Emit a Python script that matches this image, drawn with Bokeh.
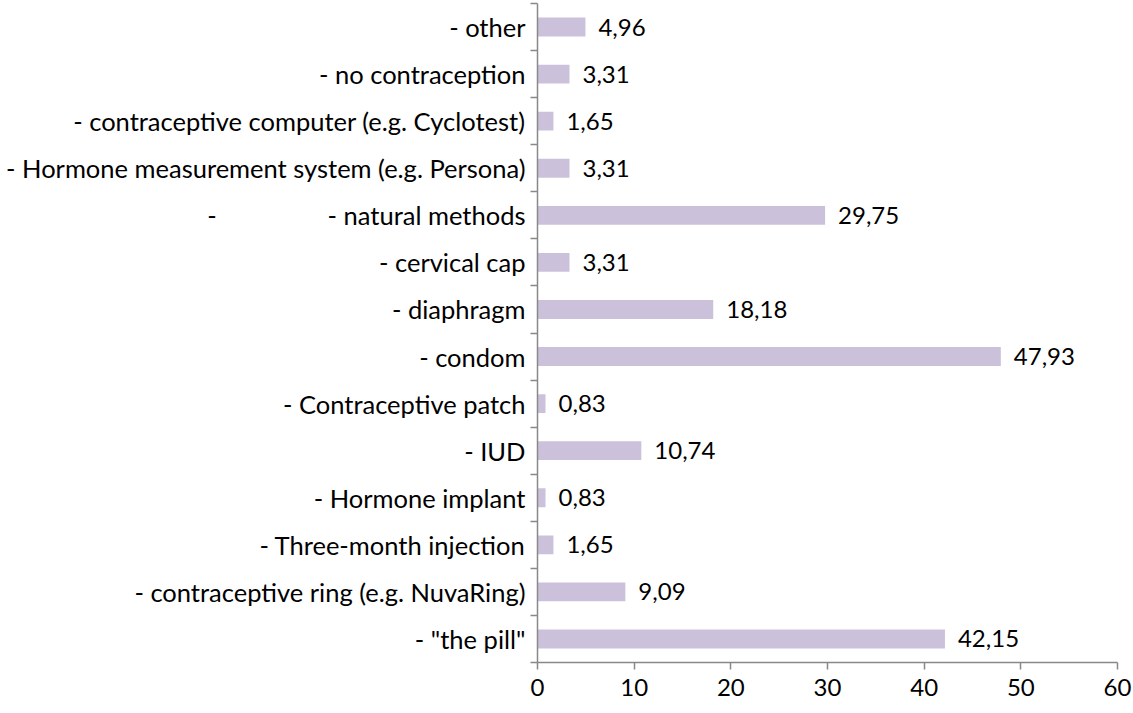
from bokeh.plotting import figure
from bokeh.models import ColumnDataSource, Range1d, FixedTicker
from bokeh.core.properties import value
from bokeh.embed import file_html
from bokeh.resources import INLINE

NBSP = "\u00a0"
# listed bottom to top
categories = [
    '- "the pill"',
    "- contraceptive ring (e.g. NuvaRing)",
    "- Three-month injection",
    "- Hormone implant",
    "- IUD",
    "- Contraceptive patch",
    "- condom",
    "- diaphragm",
    "- cervical cap",
    "-" + NBSP * 17 + "- natural methods",
    "- Hormone measurement system (e.g. Persona)",
    "- contraceptive computer (e.g. Cyclotest)",
    "- no contraception",
    "- other",
]
values = [42.15, 9.09, 1.65, 0.83, 10.74, 0.83, 47.93, 18.18, 3.31, 29.75, 3.31, 1.65, 3.31, 4.96]
x_ticks = [0, 10, 20, 30, 40, 50, 60]

FONT = "Lato"
FS_CAT = "25.5px"
FS = "24px"
BAR = "#CCC1DA"
AXIS = "#898989"

pos = list(range(len(categories)))
src = ColumnDataSource(dict(
    y=pos,
    v=values,
    lbl=[f"{v:.2f}".replace(".", ",") for v in values],
))

p = figure(width=1133, height=713, output_backend="svg", toolbar_location=None,
           x_range=Range1d(0, 60), y_range=Range1d(-0.5, len(categories) - 0.5),
           min_border_left=537, min_border_right=16, min_border_top=3, min_border_bottom=51)
p.outline_line_color = None
p.grid.visible = False

p.hbar(y="y", right="v", left=0, height=0.4, source=src, fill_color=BAR, line_color=None)
p.text(x="v", y="y", text="lbl", source=src, x_offset=13, text_baseline="middle",
       text_align="left", text_font=value(FONT), text_font_size=FS, text_color="#000000")

# x axis
p.xaxis.ticker = FixedTicker(ticks=x_ticks)
p.xaxis.axis_line_color = AXIS
p.xaxis.axis_line_width = 1.5
p.xaxis.major_tick_line_color = AXIS
p.xaxis.major_tick_line_width = 1.5
p.xaxis.major_tick_in = 0
p.xaxis.major_tick_out = 7
p.xaxis.minor_tick_line_color = None
p.xaxis.major_label_standoff = 9
p.xaxis.major_label_text_font = FONT
p.xaxis.major_label_text_font_size = FS
p.xaxis.major_label_text_color = "#000000"

# y axis
p.yaxis.ticker = FixedTicker(ticks=pos, minor_ticks=[i - 0.5 for i in range(len(categories) + 1)])
p.yaxis.major_label_overrides = {i: c for i, c in zip(pos, categories)}
p.yaxis.axis_line_color = AXIS
p.yaxis.axis_line_width = 1.5
p.yaxis.major_tick_line_color = None
p.yaxis.major_tick_in = 0
p.yaxis.major_tick_out = 0
p.yaxis.minor_tick_line_color = AXIS
p.yaxis.minor_tick_line_width = 1.5
p.yaxis.minor_tick_in = 0
p.yaxis.minor_tick_out = 7
p.yaxis.major_label_standoff = 5
p.yaxis.major_label_text_font = FONT
p.yaxis.major_label_text_font_size = FS_CAT
p.yaxis.major_label_text_color = "#000000"

open("out.html", "w").write(file_html(p, INLINE))
